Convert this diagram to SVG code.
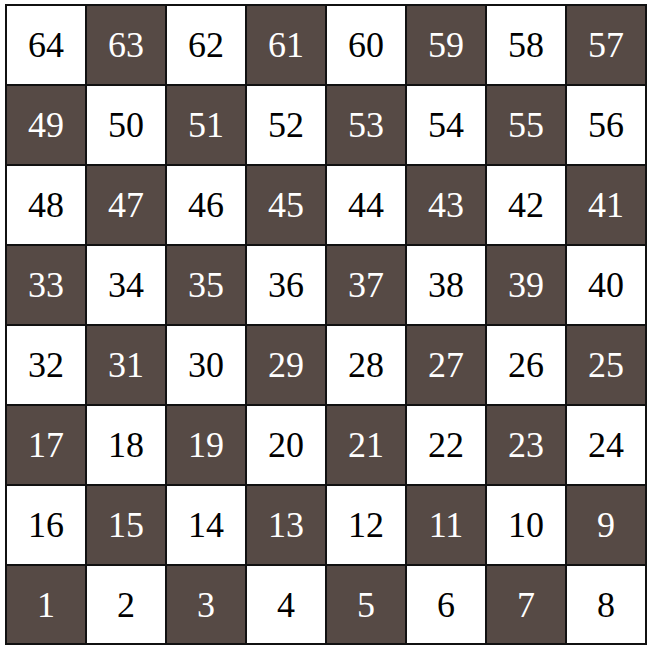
<svg xmlns="http://www.w3.org/2000/svg" width="651" height="651" viewBox="0 0 651 651">
<style>
.l{fill:#ffffff;stroke:#111;stroke-width:2}
.d{fill:#564a45;stroke:#111;stroke-width:2}
text{font-family:"Liberation Serif","Times New Roman",serif;font-size:36px;text-anchor:middle}
.tl{fill:#000}
.td{fill:#fff}
</style>
<rect x="0" y="0" width="651" height="651" fill="#fff"/>
<g id="row8">
<g id="c64"><rect class="l" x="6" y="5" width="80" height="80"/><text class="tl" x="46" y="57">64</text></g>
<g id="c63"><rect class="d" x="86" y="5" width="80" height="80"/><text class="td" x="126" y="57">63</text></g>
<g id="c62"><rect class="l" x="166" y="5" width="80" height="80"/><text class="tl" x="206" y="57">62</text></g>
<g id="c61"><rect class="d" x="246" y="5" width="80" height="80"/><text class="td" x="286" y="57">61</text></g>
<g id="c60"><rect class="l" x="326" y="5" width="80" height="80"/><text class="tl" x="366" y="57">60</text></g>
<g id="c59"><rect class="d" x="406" y="5" width="80" height="80"/><text class="td" x="446" y="57">59</text></g>
<g id="c58"><rect class="l" x="486" y="5" width="80" height="80"/><text class="tl" x="526" y="57">58</text></g>
<g id="c57"><rect class="d" x="566" y="5" width="80" height="80"/><text class="td" x="606" y="57">57</text></g>
</g>
<g id="row7">
<g id="c49"><rect class="d" x="6" y="85" width="80" height="80"/><text class="td" x="46" y="137">49</text></g>
<g id="c50"><rect class="l" x="86" y="85" width="80" height="80"/><text class="tl" x="126" y="137">50</text></g>
<g id="c51"><rect class="d" x="166" y="85" width="80" height="80"/><text class="td" x="206" y="137">51</text></g>
<g id="c52"><rect class="l" x="246" y="85" width="80" height="80"/><text class="tl" x="286" y="137">52</text></g>
<g id="c53"><rect class="d" x="326" y="85" width="80" height="80"/><text class="td" x="366" y="137">53</text></g>
<g id="c54"><rect class="l" x="406" y="85" width="80" height="80"/><text class="tl" x="446" y="137">54</text></g>
<g id="c55"><rect class="d" x="486" y="85" width="80" height="80"/><text class="td" x="526" y="137">55</text></g>
<g id="c56"><rect class="l" x="566" y="85" width="80" height="80"/><text class="tl" x="606" y="137">56</text></g>
</g>
<g id="row6">
<g id="c48"><rect class="l" x="6" y="165" width="80" height="80"/><text class="tl" x="46" y="217">48</text></g>
<g id="c47"><rect class="d" x="86" y="165" width="80" height="80"/><text class="td" x="126" y="217">47</text></g>
<g id="c46"><rect class="l" x="166" y="165" width="80" height="80"/><text class="tl" x="206" y="217">46</text></g>
<g id="c45"><rect class="d" x="246" y="165" width="80" height="80"/><text class="td" x="286" y="217">45</text></g>
<g id="c44"><rect class="l" x="326" y="165" width="80" height="80"/><text class="tl" x="366" y="217">44</text></g>
<g id="c43"><rect class="d" x="406" y="165" width="80" height="80"/><text class="td" x="446" y="217">43</text></g>
<g id="c42"><rect class="l" x="486" y="165" width="80" height="80"/><text class="tl" x="526" y="217">42</text></g>
<g id="c41"><rect class="d" x="566" y="165" width="80" height="80"/><text class="td" x="606" y="217">41</text></g>
</g>
<g id="row5">
<g id="c33"><rect class="d" x="6" y="245" width="80" height="80"/><text class="td" x="46" y="297">33</text></g>
<g id="c34"><rect class="l" x="86" y="245" width="80" height="80"/><text class="tl" x="126" y="297">34</text></g>
<g id="c35"><rect class="d" x="166" y="245" width="80" height="80"/><text class="td" x="206" y="297">35</text></g>
<g id="c36"><rect class="l" x="246" y="245" width="80" height="80"/><text class="tl" x="286" y="297">36</text></g>
<g id="c37"><rect class="d" x="326" y="245" width="80" height="80"/><text class="td" x="366" y="297">37</text></g>
<g id="c38"><rect class="l" x="406" y="245" width="80" height="80"/><text class="tl" x="446" y="297">38</text></g>
<g id="c39"><rect class="d" x="486" y="245" width="80" height="80"/><text class="td" x="526" y="297">39</text></g>
<g id="c40"><rect class="l" x="566" y="245" width="80" height="80"/><text class="tl" x="606" y="297">40</text></g>
</g>
<g id="row4">
<g id="c32"><rect class="l" x="6" y="325" width="80" height="80"/><text class="tl" x="46" y="377">32</text></g>
<g id="c31"><rect class="d" x="86" y="325" width="80" height="80"/><text class="td" x="126" y="377">31</text></g>
<g id="c30"><rect class="l" x="166" y="325" width="80" height="80"/><text class="tl" x="206" y="377">30</text></g>
<g id="c29"><rect class="d" x="246" y="325" width="80" height="80"/><text class="td" x="286" y="377">29</text></g>
<g id="c28"><rect class="l" x="326" y="325" width="80" height="80"/><text class="tl" x="366" y="377">28</text></g>
<g id="c27"><rect class="d" x="406" y="325" width="80" height="80"/><text class="td" x="446" y="377">27</text></g>
<g id="c26"><rect class="l" x="486" y="325" width="80" height="80"/><text class="tl" x="526" y="377">26</text></g>
<g id="c25"><rect class="d" x="566" y="325" width="80" height="80"/><text class="td" x="606" y="377">25</text></g>
</g>
<g id="row3">
<g id="c17"><rect class="d" x="6" y="405" width="80" height="80"/><text class="td" x="46" y="457">17</text></g>
<g id="c18"><rect class="l" x="86" y="405" width="80" height="80"/><text class="tl" x="126" y="457">18</text></g>
<g id="c19"><rect class="d" x="166" y="405" width="80" height="80"/><text class="td" x="206" y="457">19</text></g>
<g id="c20"><rect class="l" x="246" y="405" width="80" height="80"/><text class="tl" x="286" y="457">20</text></g>
<g id="c21"><rect class="d" x="326" y="405" width="80" height="80"/><text class="td" x="366" y="457">21</text></g>
<g id="c22"><rect class="l" x="406" y="405" width="80" height="80"/><text class="tl" x="446" y="457">22</text></g>
<g id="c23"><rect class="d" x="486" y="405" width="80" height="80"/><text class="td" x="526" y="457">23</text></g>
<g id="c24"><rect class="l" x="566" y="405" width="80" height="80"/><text class="tl" x="606" y="457">24</text></g>
</g>
<g id="row2">
<g id="c16"><rect class="l" x="6" y="485" width="80" height="80"/><text class="tl" x="46" y="537">16</text></g>
<g id="c15"><rect class="d" x="86" y="485" width="80" height="80"/><text class="td" x="126" y="537">15</text></g>
<g id="c14"><rect class="l" x="166" y="485" width="80" height="80"/><text class="tl" x="206" y="537">14</text></g>
<g id="c13"><rect class="d" x="246" y="485" width="80" height="80"/><text class="td" x="286" y="537">13</text></g>
<g id="c12"><rect class="l" x="326" y="485" width="80" height="80"/><text class="tl" x="366" y="537">12</text></g>
<g id="c11"><rect class="d" x="406" y="485" width="80" height="80"/><text class="td" x="446" y="537">11</text></g>
<g id="c10"><rect class="l" x="486" y="485" width="80" height="80"/><text class="tl" x="526" y="537">10</text></g>
<g id="c9"><rect class="d" x="566" y="485" width="80" height="80"/><text class="td" x="606" y="537">9</text></g>
</g>
<g id="row1">
<g id="c1"><rect class="d" x="6" y="565" width="80" height="79"/><text class="td" x="46" y="617">1</text></g>
<g id="c2"><rect class="l" x="86" y="565" width="80" height="79"/><text class="tl" x="126" y="617">2</text></g>
<g id="c3"><rect class="d" x="166" y="565" width="80" height="79"/><text class="td" x="206" y="617">3</text></g>
<g id="c4"><rect class="l" x="246" y="565" width="80" height="79"/><text class="tl" x="286" y="617">4</text></g>
<g id="c5"><rect class="d" x="326" y="565" width="80" height="79"/><text class="td" x="366" y="617">5</text></g>
<g id="c6"><rect class="l" x="406" y="565" width="80" height="79"/><text class="tl" x="446" y="617">6</text></g>
<g id="c7"><rect class="d" x="486" y="565" width="80" height="79"/><text class="td" x="526" y="617">7</text></g>
<g id="c8"><rect class="l" x="566" y="565" width="80" height="79"/><text class="tl" x="606" y="617">8</text></g>
</g>
<g id="connectors"/>
</svg>
